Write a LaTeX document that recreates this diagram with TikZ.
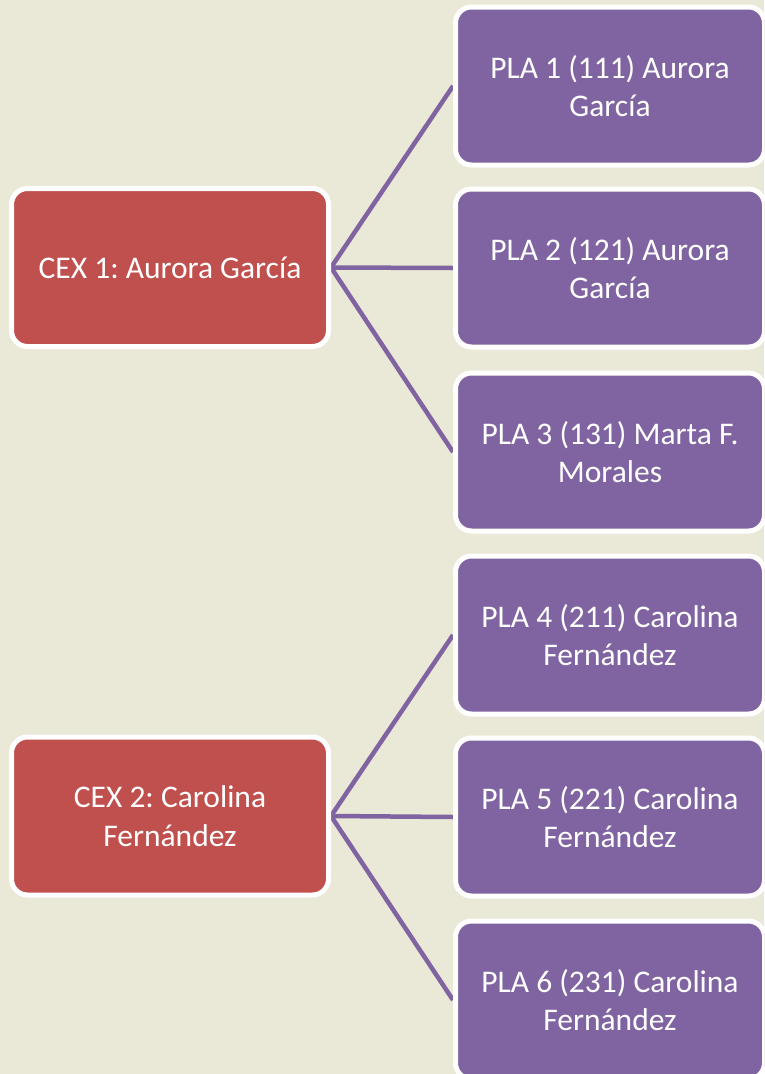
\documentclass[tikz,border=0pt]{standalone}
\usepackage{fontspec}
\setmainfont{Carlito}
\usetikzlibrary{backgrounds}
\definecolor{bgc}{HTML}{EAE8D6}
\definecolor{redc}{HTML}{C0504D}
\definecolor{purc}{HTML}{8064A2}
\frenchspacing
\tikzset{
  box/.style={draw=white, line width=5pt, rounded corners=16pt, text=white,
    align=center, inner sep=0pt, minimum height=158pt,
    font=\fontsize{31.5}{38.5}\selectfont},
  cexbox/.style={box, fill=redc, minimum width=317pt},
  plabox/.style={box, fill=purc, minimum width=309pt},
  conn/.style={draw=purc, line width=4.5pt}
}
\begin{document}
\begin{tikzpicture}[x=1pt,y=-1pt]
\useasboundingbox (0,0) rectangle (764,1074);
\clip (0,0) rectangle (764,1074);
\node[cexbox] (c1) at (170,267.5) {CEX 1: Aurora García};
\node[cexbox] (c2) at (170,816) {CEX 2: Carolina\\Fernández};
\node[plabox] (p1) at (610,86) {PLA 1 (111) Aurora\\García};
\node[plabox] (p2) at (610,268) {PLA 2 (121) Aurora\\García};
\node[plabox] (p3) at (610,452) {PLA 3 (131) Marta F.\\Morales};
\node[plabox] (p4) at (610,635) {PLA 4 (211) Carolina\\Fernández};
\node[plabox] (p5) at (610,817) {PLA 5 (221) Carolina\\Fernández};
\node[plabox] (p6) at (610,1000) {PLA 6 (231) Carolina\\Fernández};
\begin{scope}[on background layer]
\fill[bgc] (0,0) rectangle (764,1074);
\draw[conn] (c1.east) -- (p1.west);
\draw[conn] (c1.east) -- (p2.west);
\draw[conn] (c1.east) -- (p3.west);
\draw[conn] (c2.east) -- (p4.west);
\draw[conn] (c2.east) -- (p5.west);
\draw[conn] (c2.east) -- (p6.west);
\end{scope}
\end{tikzpicture}
\end{document}
